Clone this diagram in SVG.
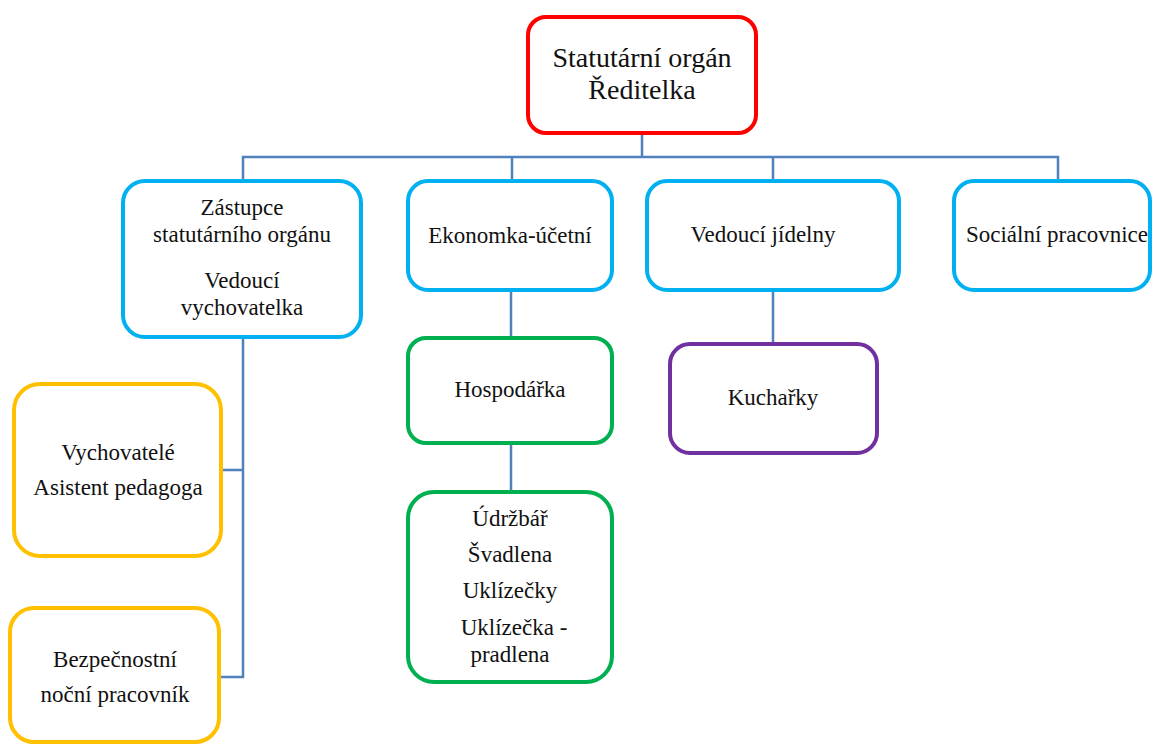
<svg xmlns="http://www.w3.org/2000/svg" width="1152" height="745" viewBox="0 0 1152 745" font-family="Liberation Serif, serif">
<style>
.box{fill:#fff;stroke-width:4}
.red{stroke:#FF0000}
.blue{stroke:#00B0F0}
.yel{stroke:#FFC000}
.grn{stroke:#00B050}
.pur{stroke:#7030A0}
text{font-family:"Liberation Serif",serif}
.t{font-size:23px;fill:#111;text-anchor:middle}
.big{font-size:28px}
.c{fill:none;stroke:#4F81BD;stroke-width:2.5}
</style>
<rect width="1152" height="745" fill="#fff"/>
<g id="connectors">
<path class="c" d="M642,133 V157 M243,181 V157 H1058 V181 M512,157 V181 M773,157 V181"/>
<path class="c" d="M243,337 V677 H219 M243,470 H221"/>
<path class="c" d="M511,290 V337 M511,443 V492"/>
<path class="c" d="M773,290 V343"/>
</g>
<g id="n-reditelka">
<rect class="box red" x="528" y="17" width="228" height="116" rx="18"/>
<text class="t big" x="642" y="67" font-family="Liberation Serif">Statutární orgán</text>
<text class="t big" x="642" y="99" font-family="Liberation Serif">Ředitelka</text>
</g>
<g id="n-zastupce">
<rect class="box blue" x="123" y="181" width="238" height="156" rx="22"/>
<text class="t" x="242" y="215">Zástupce</text>
<text class="t" x="242" y="242">statutárního orgánu</text>
<text class="t" x="242" y="288">Vedoucí</text>
<text class="t" x="242" y="315">vychovatelka</text>
</g>
<g id="n-ekonomka">
<rect class="box blue" x="408" y="181" width="204" height="109" rx="20"/>
<text class="t" x="510" y="243">Ekonomka-účetní</text>
</g>
<g id="n-jidelna">
<rect class="box blue" x="647" y="181" width="252" height="109" rx="20"/>
<text class="t" x="763" y="242">Vedoucí jídelny</text>
</g>
<g id="n-socialni">
<rect class="box blue" x="954" y="181" width="196" height="109" rx="20"/>
<text class="t" x="1057" y="242">Sociální pracovnice</text>
</g>
<g id="n-vychovatele">
<rect class="box yel" x="14" y="384" width="207" height="172" rx="26"/>
<text class="t" x="118" y="460">Vychovatelé</text>
<text class="t" x="118" y="495">Asistent pedagoga</text>
</g>
<g id="n-bezpecnostni">
<rect class="box yel" x="10" y="608" width="209" height="134" rx="24"/>
<text class="t" x="115" y="667">Bezpečnostní</text>
<text class="t" x="115" y="702">noční pracovník</text>
</g>
<g id="n-hospodarka">
<rect class="box grn" x="408" y="338" width="204" height="105" rx="18"/>
<text class="t" x="510" y="397">Hospodářka</text>
</g>
<g id="n-udrzbar">
<rect class="box grn" x="408" y="492" width="204" height="190" rx="26"/>
<text class="t" x="510" y="526">Údržbář</text>
<text class="t" x="510" y="562">Švadlena</text>
<text class="t" x="510" y="598">Uklízečky</text>
<text class="t" x="514" y="635">Uklízečka -</text>
<text class="t" x="510" y="662">pradlena</text>
</g>
<g id="n-kucharky">
<rect class="box pur" x="670" y="344" width="207" height="109" rx="20"/>
<text class="t" x="773" y="405">Kuchařky</text>
</g>
</svg>
